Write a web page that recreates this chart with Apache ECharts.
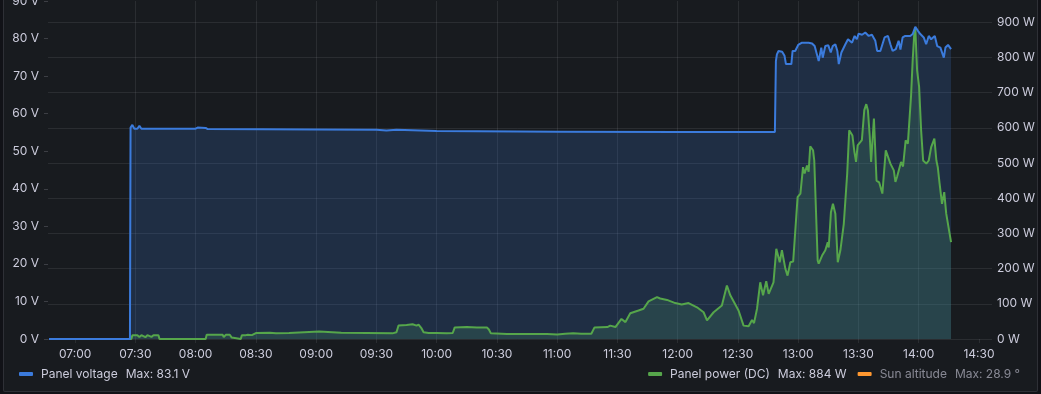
<!DOCTYPE html>
<html>
<head>
<meta charset="utf-8">
<script src="https://cdn.jsdelivr.net/npm/echarts@6/dist/echarts.min.js"></script>
<style>
  html, body { margin: 0; padding: 0; background: #111217; }
  #panel { position: absolute; left: 3px; top: -10px; width: 1033px; height: 400px;
           background: #181b1f; border: 1px solid rgba(204,204,220,0.12); border-radius: 2px; }
  #chart { position: absolute; left: 0; top: 0; width: 1041px; height: 394px; }
</style>
</head>
<body>
<div id="panel"></div>
<div id="chart"></div>
<script>
// ---- data (time "HH:MM" with fractional minutes allowed, value) ----
const axisStart = "06:46.5";
const axisEnd = "14:34";
const timeTickLabels = ["07:00","07:30","08:00","08:30","09:00","09:30","10:00","10:30","11:00","11:30","12:00","12:30","13:00","13:30","14:00","14:30"];

const voltageTimes = ["06:47","07:27.3","07:27.6","07:28.5","07:29.5","07:31","07:32","07:33","08:00","08:01","08:05","08:06","09:00","09:30","09:35","09:40","10:00","11:00","12:00","12:30","12:48.4","12:48.9","12:49.4","12:50.2","12:52","12:53.2","12:53.9","12:56.6","12:57.2","12:58.5","13:00","13:01.9","13:05.2","13:06.9","13:08.2","13:09.3","13:10.2","13:11.5","13:12.2","13:13.5","13:15","13:16.2","13:17.2","13:18.5","13:19.5","13:20.2","13:21.5","13:23.5","13:24.8","13:26.8","13:28.1","13:29.2","13:30.1","13:31.8","13:33.4","13:35.1","13:36.7","13:38.4","13:39.3","13:40.9","13:41.7","13:43","13:44.7","13:45.9","13:47","13:48.6","13:50","13:50.9","13:52","13:53.3","13:55.8","13:57","13:58.3","13:59.7","14:00.8","14:02.5","14:03.7","14:05","14:06.2","14:08","14:09.2","14:10.8","14:12.5","14:13.3","14:14.6","14:16.1"];
const voltageValues = [0,0,56.3,57,56,56,56.8,56,56,56.3,56.2,55.9,55.8,55.7,55.5,55.7,55.4,55.2,55.1,55.1,55.1,74,75.8,76.7,76.5,75.4,73.2,73.2,76.7,76.7,78.3,78.9,78.9,78.7,78,75.8,74,77.6,74.9,78,78.2,76.3,78,78.5,76.7,73.2,76.3,78.5,79.8,78.9,80.7,79.8,81.3,81,81.6,80.7,81,79.4,76.7,76.7,77.2,80.3,80.7,78.5,76.7,77.2,79.4,77.1,80.3,80.7,80.7,81.2,83.1,82,81.2,80.3,78.5,80.7,79.8,80.7,78,77.6,74.9,77.6,78.3,77.2];

const powerTimes = ["06:47","07:28","07:28.5","07:31","07:32","07:33","07:35","07:36","07:38","07:39","07:41.5","07:42","08:05","08:05.5","08:13.5","08:14","08:15","08:17","08:18","08:18.5","08:22.5","08:23","08:25","08:25.5","08:26","08:28","08:30","08:37","08:40","08:46.5","08:47","09:01.5","09:02","09:12.5","09:13","09:38","09:40","09:41","09:45","09:48","09:50","09:51","09:52.5","09:53.5","09:56","10:00","10:05","10:08","10:09","10:15","10:20","10:25","10:26","10:27","10:35","10:45","10:55","11:00","11:04","11:08","11:12","11:17","11:18.6","11:25","11:26.4","11:29","11:32","11:34","11:36.4","11:40.5","11:43","11:45.5","11:49.7","11:51.3","11:54.7","11:58.8","12:02","12:05.4","12:09.6","12:12.9","12:14.6","12:15.5","12:17.9","12:22","12:24.5","12:26.2","12:30.3","12:32.8","12:35.3","12:37","12:38","12:39.5","12:41.1","12:42.5","12:44.1","12:45.3","12:47.7","12:49.1","12:50.8","12:51.9","12:53.6","12:54.7","12:56.1","12:57.5","12:59.7","13:01.1","13:02.4","13:03.2","13:04.4","13:05.2","13:06","13:07.4","13:08","13:09.7","13:10.2","13:11.9","13:13.5","13:14.7","13:15.2","13:16.3","13:17.3","13:18.5","13:19.7","13:21","13:22.7","13:24.4","13:25.4","13:26","13:27","13:28","13:28.8","13:29.6","13:30.9","13:31.7","13:32.9","13:33.9","13:34.7","13:35.6","13:36.3","13:37","13:37.7","13:38.3","13:39","13:40.3","13:41.2","13:41.9","13:43.6","13:44.3","13:45.9","13:47.6","13:48.4","13:49.2","13:51.2","13:52.2","13:53.5","13:54.6","13:56.2","13:57","13:57.8","13:58.3","13:59.2","14:00.2","14:01.2","14:02.2","14:03.8","14:05","14:06.2","14:07.8","14:08.8","14:09.5","14:10.4","14:11.6","14:12.7","14:13.7","14:16.1"];
const powerValues = [0,0,11,11,6,11,5,11,6,11,11,0,0,12,12,5,12,12,4,0,0,11,11,6,12,11,17,18,16,17,21,21,18,18,16,16,19,38,40,42,38,41,30,19,17,17,16,17,33,34,33,33,27,16,14,14,14,13,15,16,15,15,33,34,38,34,57,48,73,81,86,107,119,115,111,102,98,102,90,76,53,53,76,95,152,124,81,38,36,54,45,86,161,124,164,128,161,256,218,252,200,180,218,220,403,413,488,470,493,475,547,536,507,223,214,237,252,275,260,360,384,356,218,252,327,470,593,593,578,531,503,550,559,565,650,667,650,578,503,503,626,628,450,445,445,413,536,534,498,479,446,460,503,490,564,555,692,792,868,884,763,716,593,507,498,507,545,569,507,488,441,384,417,356,275];

const sunAltitudeMax = 28.9;   // series hidden in the reference, only its legend stat shows

const leftTicks = { min: 0, max: 90, interval: 10, unit: "V" };
const rightTicks = { min: 0, max: 960, interval: 100, unit: "W" };

// ---- helpers: clock time -> minutes since midnight ----
function toMin(s) {
  const [h, m] = s.split(":");
  return (+h) * 60 + parseFloat(m);
}
function pad(n) { return (n < 10 ? "0" : "") + n; }
function fmtClock(v) { const r = Math.round(v); return pad(Math.floor(r / 60)) + ":" + pad(r % 60); }
const voltageData = voltageTimes.map((t, i) => [toMin(t), voltageValues[i]]);
const powerData = powerTimes.map((t, i) => [toMin(t), powerValues[i]]);
const tickValues = timeTickLabels.map(toMin);
const vMax = Math.max(...voltageValues);
const pMax = Math.max(...powerValues);

const TXT = "#ccccdc";
const GRID = "rgba(204,204,220,0.1)";
const FONT = "Inter";
const BLUE = "#3b7bdc";
const GREEN = "#56A64B";
const ORANGE = "#FF9830";

const legendStats = {
  "Panel voltage": "Max: " + vMax.toFixed(1) + " V",
  "Panel power (DC)": "Max: " + pMax.toFixed(0) + " W",
  "Sun altitude": "Max: " + sunAltitudeMax.toFixed(1) + " °"
};
const legendRich = {
  n: { color: TXT, fontFamily: FONT, fontSize: 12, padding: [0, 0, 0, 3] },
  m: { color: TXT, fontFamily: FONT, fontSize: 12, padding: [0, 0, 0, 8] },
  nd: { color: "rgba(204,204,220,0.62)", fontFamily: FONT, fontSize: 12, padding: [0, 0, 0, 3] },
  md: { color: "rgba(204,204,220,0.62)", fontFamily: FONT, fontSize: 12, padding: [0, 0, 0, 8] }
};
function legendFmt(name) {
  if (name === "Sun altitude") return "{nd|" + name + "}{md|" + legendStats[name] + "}";
  return "{n|" + name + "}{m|" + legendStats[name] + "}";
}

const chart = echarts.init(document.getElementById("chart"), null, { renderer: "canvas" });
chart.setOption({
  animation: false,
  backgroundColor: "transparent",
  textStyle: { fontFamily: FONT },
  grid: { left: 48, right: 54, top: 1, bottom: 55, containLabel: false, outerBoundsMode: "none" },
  legend: [
    {
      data: ["Panel voltage"], left: 14, top: 363, icon: "roundRect",
      itemWidth: 14, itemHeight: 4, itemGap: 11,
      formatter: legendFmt, textStyle: { rich: legendRich }
    },
    {
      data: ["Panel power (DC)", "Sun altitude"], right: 16, top: 363, icon: "roundRect",
      itemWidth: 14, itemHeight: 4, itemGap: 11, selectedMode: false,
      formatter: legendFmt, textStyle: { rich: legendRich }
    }
  ],
  xAxis: {
    type: "value",
    min: toMin(axisStart), max: toMin(axisEnd),
    axisLine: { show: false },
    axisTick: { show: true, length: 4, customValues: tickValues, lineStyle: { color: GRID } },
    splitLine: { show: true, showMinLine: false, showMaxLine: false, lineStyle: { color: GRID, width: 1 } },
    axisLabel: {
      color: TXT, fontSize: 12, fontFamily: FONT, margin: 9, hideOverlap: false,
      customValues: tickValues,
      formatter: fmtClock
    }
  },
  yAxis: [
    {
      type: "value", position: "left", min: leftTicks.min, max: leftTicks.max, interval: leftTicks.interval,
      axisLine: { show: false },
      axisTick: { show: true, length: 4, lineStyle: { color: "rgba(204,204,220,0.2)" } },
      splitLine: { show: false },
      axisLabel: { color: TXT, fontSize: 12, fontFamily: FONT, margin: 9,
                   formatter: v => v + " " + leftTicks.unit }
    },
    {
      type: "value", position: "right", min: rightTicks.min, max: rightTicks.max, interval: rightTicks.interval,
      axisLine: { show: false },
      axisTick: { show: true, length: 5, lineStyle: { color: GRID } },
      splitLine: { show: true, showMaxLine: false, lineStyle: { color: GRID } },
      axisLabel: { color: TXT, fontSize: 12, fontFamily: FONT, margin: 10, showMaxLabel: false,
                   formatter: v => v + " " + rightTicks.unit }
    }
  ],
  series: [
    {
      name: "Panel power (DC)", type: "line", yAxisIndex: 1, data: powerData,
      showSymbol: false, symbol: "none",
      color: GREEN, itemStyle: { color: GREEN },
      lineStyle: { color: GREEN, width: 2 },
      areaStyle: { color: GREEN, opacity: 0.2 }
    },
    {
      name: "Panel voltage", type: "line", yAxisIndex: 0, data: voltageData,
      showSymbol: false, symbol: "none",
      color: BLUE, itemStyle: { color: BLUE },
      lineStyle: { color: BLUE, width: 2 },
      areaStyle: { color: BLUE, opacity: 0.2 }
    },
    {
      name: "Sun altitude", type: "line", yAxisIndex: 0, data: [],
      showSymbol: false, symbol: "none",
      color: ORANGE, itemStyle: { color: ORANGE }, lineStyle: { color: ORANGE, width: 2 }
    }
  ]
});
</script>
</body>
</html>
